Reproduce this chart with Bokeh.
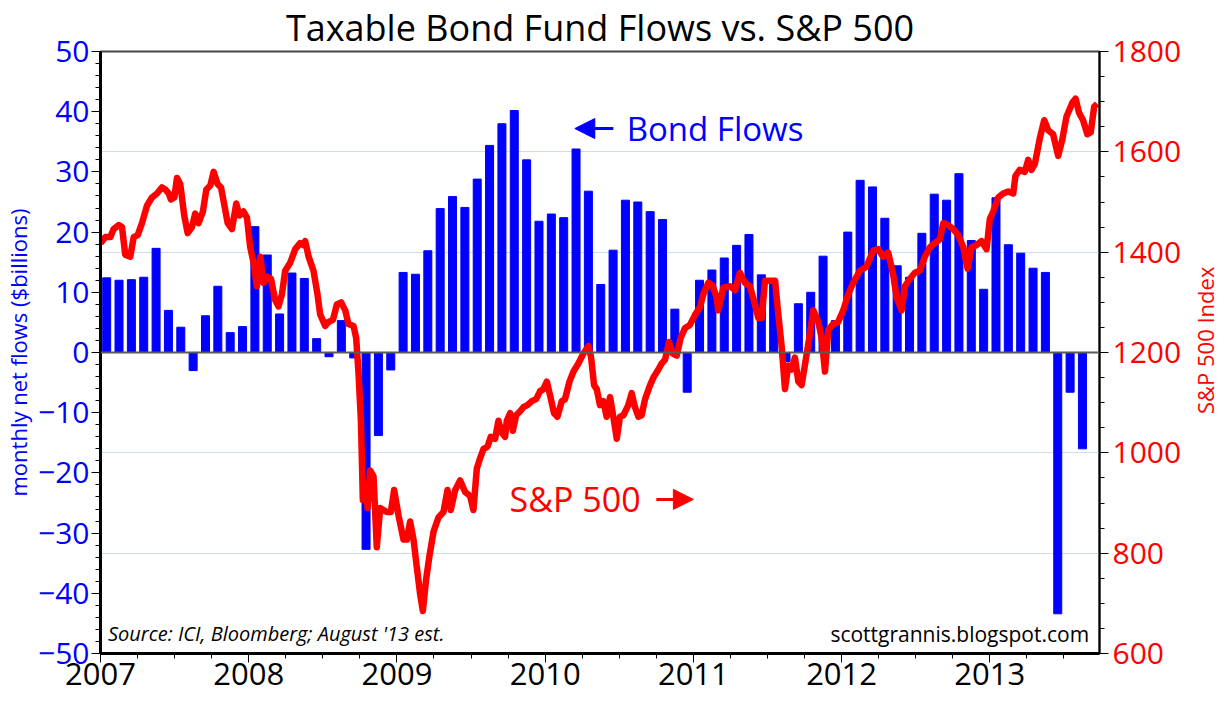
import math
from bokeh.plotting import figure
from bokeh.layouts import row
from bokeh.models import (Range1d, LinearAxis, FixedTicker, Span, Label, Grid,
                          Arrow, NormalHead)
from bokeh.embed import file_html
from bokeh.resources import INLINE

# ---------------- data ----------------
years = [2007, 2008, 2009, 2010, 2011, 2012, 2013]

# monthly taxable bond fund net flows ($ billions), Jan 2007 - Aug 2013
flows_2007 = [12.4, 12.0, 12.1, 12.5, 17.3, 7.0, 4.2, -3.0, 6.1, 11.0, 3.3, 4.3]
flows_2008 = [20.9, 16.2, 6.4, 13.2, 12.3, 2.3, -0.7, 5.3, -0.9, -32.7, -13.8, -2.9]
flows_2009 = [13.3, 13.0, 16.9, 23.9, 25.9, 24.1, 28.8, 34.4, 38.0, 40.2, 32.0, 21.8]
flows_2010 = [23.0, 22.4, 33.8, 26.8, 11.3, 17.0, 25.3, 25.0, 23.4, 22.1, 7.2, -6.6]
flows_2011 = [12.0, 13.7, 15.7, 17.8, 19.6, 12.9, 12.1, -1.5, 8.1, 10.0, 16.0, 5.3]
flows_2012 = [20.0, 28.6, 27.5, 22.3, 14.4, 12.5, 19.8, 26.3, 25.3, 29.7, 18.6, 10.5]
flows_2013 = [25.7, 17.9, 16.5, 14.0, 13.3, -43.4, -6.6, -16.0]

# S&P 500 index (time as decimal year)
sp_t = [2007.000, 2007.033, 2007.066, 2007.089, 2007.123, 2007.145, 2007.167, 2007.201,
        2007.224, 2007.251, 2007.280, 2007.314, 2007.347, 2007.381, 2007.415, 2007.437,
        2007.460, 2007.475, 2007.498, 2007.516, 2007.538, 2007.565, 2007.588, 2007.617,
        2007.639, 2007.662, 2007.691, 2007.714, 2007.741, 2007.763, 2007.790, 2007.813,
        2007.831, 2007.858, 2007.887, 2007.916, 2007.938, 2007.965, 2007.988,
        2008.010, 2008.033, 2008.055, 2008.078, 2008.100, 2008.127, 2008.150, 2008.179,
        2008.201, 2008.224, 2008.246, 2008.280, 2008.314, 2008.347, 2008.370, 2008.381,
        2008.404, 2008.437, 2008.464, 2008.482, 2008.516, 2008.539, 2008.568, 2008.595,
        2008.624, 2008.651, 2008.673, 2008.707, 2008.725, 2008.741, 2008.757, 2008.770,
        2008.786, 2008.802, 2008.819, 2008.842, 2008.864, 2008.887, 2008.909, 2008.932,
        2008.959, 2008.981,
        2009.011, 2009.044, 2009.067, 2009.089, 2009.112, 2009.134, 2009.157, 2009.175,
        2009.197, 2009.220, 2009.247, 2009.280, 2009.314, 2009.341, 2009.363, 2009.393,
        2009.426, 2009.460, 2009.494, 2009.516, 2009.539, 2009.561, 2009.584, 2009.611,
        2009.633, 2009.662, 2009.685, 2009.707, 2009.730, 2009.741, 2009.764, 2009.782,
        2009.804, 2009.831, 2009.853, 2009.880, 2009.910, 2009.939, 2009.966, 2009.988,
        2010.011, 2010.033, 2010.060, 2010.083, 2010.112, 2010.134, 2010.164, 2010.191,
        2010.224, 2010.258, 2010.292, 2010.310, 2010.330, 2010.348, 2010.370, 2010.393,
        2010.415, 2010.438, 2010.460, 2010.483, 2010.505, 2010.528, 2010.561, 2010.584,
        2010.606, 2010.629, 2010.651, 2010.674, 2010.708, 2010.730, 2010.764, 2010.786,
        2010.809, 2010.836, 2010.861, 2010.888, 2010.914, 2010.944, 2010.977,
        2011.011, 2011.044, 2011.067, 2011.101, 2011.130, 2011.157, 2011.168, 2011.202,
        2011.247, 2011.281, 2011.314, 2011.348, 2011.382, 2011.415, 2011.438, 2011.461,
        2011.483, 2011.517, 2011.551, 2011.573, 2011.595, 2011.618, 2011.640, 2011.662,
        2011.685, 2011.708, 2011.730, 2011.752, 2011.786, 2011.809, 2011.843, 2011.865,
        2011.888, 2011.910, 2011.944, 2011.977,
        2012.011, 2012.045, 2012.078, 2012.123, 2012.168, 2012.213, 2012.246, 2012.280,
        2012.315, 2012.348, 2012.371, 2012.405, 2012.427, 2012.461, 2012.494, 2012.528,
        2012.562, 2012.596, 2012.629, 2012.663, 2012.686, 2012.719, 2012.753, 2012.787,
        2012.821, 2012.850, 2012.877, 2012.910, 2012.944, 2012.978,
        2013.000, 2013.023, 2013.056, 2013.090, 2013.124, 2013.158, 2013.173, 2013.202,
        2013.236, 2013.259, 2013.281, 2013.304, 2013.337, 2013.367, 2013.394, 2013.427,
        2013.461, 2013.488, 2013.517, 2013.557, 2013.579, 2013.602, 2013.629, 2013.658,
        2013.681, 2013.704, 2013.724]
sp_v = [1418, 1430, 1430, 1446, 1454, 1450, 1395, 1391,
        1430, 1434, 1458, 1493, 1509, 1517, 1529, 1525,
        1517, 1505, 1509, 1548, 1536, 1473, 1438, 1450,
        1477, 1458, 1481, 1525, 1533, 1560, 1536, 1529,
        1501, 1458, 1446, 1497, 1473, 1481, 1469,
        1410, 1379, 1332, 1391, 1339, 1351, 1347, 1304,
        1292, 1316, 1363, 1379, 1406, 1418, 1414, 1422,
        1391, 1363, 1316, 1276, 1253, 1261, 1265, 1296,
        1300, 1284, 1257, 1253, 1229, 1158, 1064, 906,
        938, 890, 965, 953, 812, 890, 886, 882,
        882, 926,
        875, 827, 827, 863, 827, 772, 717, 685,
        748, 796, 843, 871, 882, 926, 886, 926,
        945, 922, 914, 886, 969, 989, 1008, 1012,
        1032, 1028, 1064, 1040, 1032, 1064, 1079, 1044,
        1075, 1083, 1091, 1095, 1103, 1107, 1123, 1127,
        1142, 1115, 1079, 1072, 1103, 1107, 1142, 1162,
        1178, 1198, 1213, 1190, 1135, 1127, 1095, 1103,
        1072, 1111, 1072, 1028, 1072, 1075, 1095, 1119,
        1091, 1072, 1075, 1107, 1135, 1150, 1166, 1178,
        1186, 1221, 1198, 1194, 1229, 1249, 1255,
        1275, 1290, 1316, 1339, 1333, 1310, 1284, 1329,
        1332, 1324, 1359, 1339, 1332, 1296, 1269, 1269,
        1343, 1343, 1343, 1276, 1214, 1127, 1174, 1166,
        1190, 1142, 1135, 1174, 1237, 1284, 1261, 1229,
        1162, 1245, 1257, 1261,
        1284, 1316, 1339, 1363, 1371, 1403, 1406, 1391,
        1399, 1355, 1310, 1284, 1332, 1347, 1359, 1363,
        1391, 1410, 1418, 1426, 1458, 1454, 1446, 1434,
        1410, 1367, 1410, 1414, 1422, 1406,
        1466, 1481, 1509, 1517, 1521, 1517, 1552, 1564,
        1560, 1584, 1564, 1576, 1627, 1663, 1643, 1635,
        1592, 1623, 1670, 1698, 1706, 1678, 1663, 1635,
        1639, 1690, 1696]

flows = flows_2007 + flows_2008 + flows_2009 + flows_2010 + flows_2011 + flows_2012 + flows_2013
month_x = [2007 + (i + 0.5) / 12 for i in range(len(flows))]

BLUE = "#0000ff"
RED = "#ff0000"

p = figure(frame_width=999, frame_height=602, x_range=Range1d(2007, 2013.74),
           y_range=Range1d(-50, 50), output_backend="svg", toolbar_location=None,
           min_border_left=91, min_border_right=88, min_border_top=42,
           min_border_bottom=52)
p.extra_y_ranges = {"sp": Range1d(600, 1800)}

p.title.text = "Taxable Bond Fund Flows vs. S&P 500"
p.title.align = "center"
p.title.text_font = "Open Sans"
p.title.text_font_size = "36px"
p.title.text_font_style = "normal"
p.title.text_color = "#000000"
p.title.offset = 0
p.title.standoff = 0

p.xgrid.visible = False
p.ygrid.visible = False
p.background_fill_color = "white"
p.outline_line_color = "#444444"
p.outline_line_width = 2

# grid lines on S&P scale
g = Grid(dimension=1, ticker=FixedTicker(ticks=[800, 1000, 1400, 1600]),
         y_range_name="sp", grid_line_color="#c9def0", grid_line_width=1)
p.add_layout(g)

p.vbar(x=month_x, top=flows, width=0.054, fill_color=BLUE, line_color=BLUE)

p.add_layout(Span(location=0, dimension="width", line_color="#5a5a5a", line_width=2))

p.line(sp_t, sp_v, y_range_name="sp", line_color=RED, line_width=6.5,
       line_join="round")

# x axis
xa = p.xaxis[0]
xa.ticker = FixedTicker(ticks=years, minor_ticks=[2007 + q / 4 for q in range(28)])
xa.major_label_text_font = "Open Sans"
xa.major_label_text_font_size = "31px"
xa.major_label_text_color = "#000000"
xa.axis_line_width = 3
xa.axis_line_color = "#000000"
xa.major_tick_out = 9
xa.major_tick_in = 0
xa.minor_tick_out = 5
xa.minor_tick_in = 0
xa.major_tick_line_color = "#000000"
xa.minor_tick_line_color = "#000000"
xa.major_label_standoff = 0

# left axis
ya = p.yaxis[0]
ya.ticker = FixedTicker(ticks=list(range(-50, 51, 10)), minor_ticks=list(range(-50, 51, 2)))
ya.axis_label = "monthly net flows ($billions)"
ya.axis_label_text_font = "Open Sans"
ya.axis_label_text_font_size = "22px"
ya.axis_label_text_font_style = "normal"
ya.axis_label_text_color = BLUE
ya.major_label_text_font = "Open Sans"
ya.major_label_text_font_size = "30px"
ya.major_label_text_color = BLUE
ya.axis_line_width = 3
ya.axis_line_color = "#000000"
ya.major_tick_out = 9
ya.major_tick_in = 0
ya.minor_tick_out = 5
ya.minor_tick_in = 0
ya.major_label_standoff = 2
ya.axis_label_standoff = 2

# right axis (title drawn in a narrow side panel so it reads bottom-to-top)
ra = LinearAxis(y_range_name="sp",
                ticker=FixedTicker(ticks=list(range(600, 1801, 200)),
                                   minor_ticks=list(range(600, 1801, 50))))
ra.major_label_text_font = "Open Sans"
ra.major_label_text_font_size = "30px"
ra.major_label_text_color = RED
ra.axis_line_width = 2
ra.axis_line_color = "#000000"
ra.major_tick_out = 9
ra.major_tick_in = 0
ra.minor_tick_out = 5
ra.minor_tick_in = 0
ra.major_label_standoff = 4
p.add_layout(ra, "right")

# annotations
p.add_layout(Arrow(end=NormalHead(size=20, fill_color=BLUE, line_color=BLUE),
                   x_start=2010.46, y_start=37.2, x_end=2010.20, y_end=37.2,
                   line_color=BLUE, line_width=3))
p.add_layout(Label(x=2010.55, y=37.2, text="Bond Flows", text_baseline="middle",
                   text_font="Open Sans", text_font_size="33px", text_color=BLUE))
p.add_layout(Label(x=2009.76, y=-24.4, text="S&P 500", text_baseline="middle",
                   text_font="Open Sans", text_font_size="34px", text_color=RED))
p.add_layout(Arrow(end=NormalHead(size=20, fill_color=RED, line_color=RED),
                   x_start=2010.75, y_start=-24.4, x_end=2011.00, y_end=-24.4,
                   line_color=RED, line_width=3))
p.add_layout(Label(x=2007.05, y=-46.7, text="Source: ICI, Bloomberg; August '13 est.",
                   text_baseline="middle", text_font="Open Sans", text_font_style="italic",
                   text_font_size="20px", text_color="#000000"))
p.add_layout(Label(x=2013.67, y=-46.7, text="scottgrannis.blogspot.com",
                   text_baseline="middle", text_align="right", text_font="Open Sans",
                   text_font_size="21px", text_color="#000000"))

# side panel holding the right-axis title
side = figure(width=32, height=696, x_range=Range1d(0, 32), y_range=Range1d(0, 696),
              output_backend="svg", toolbar_location=None, min_border=0,
              x_axis_location=None, y_axis_location=None)
side.xgrid.visible = False
side.ygrid.visible = False
side.outline_line_color = None
side.add_layout(Label(x=17, y=357, text="S&P 500 Index", angle=math.pi / 2,
                      text_align="center", text_baseline="middle",
                      text_font="Open Sans", text_font_size="22px", text_color=RED))

layout = row(p, side, spacing=0)
open("out.html", "w").write(file_html(layout, INLINE))
